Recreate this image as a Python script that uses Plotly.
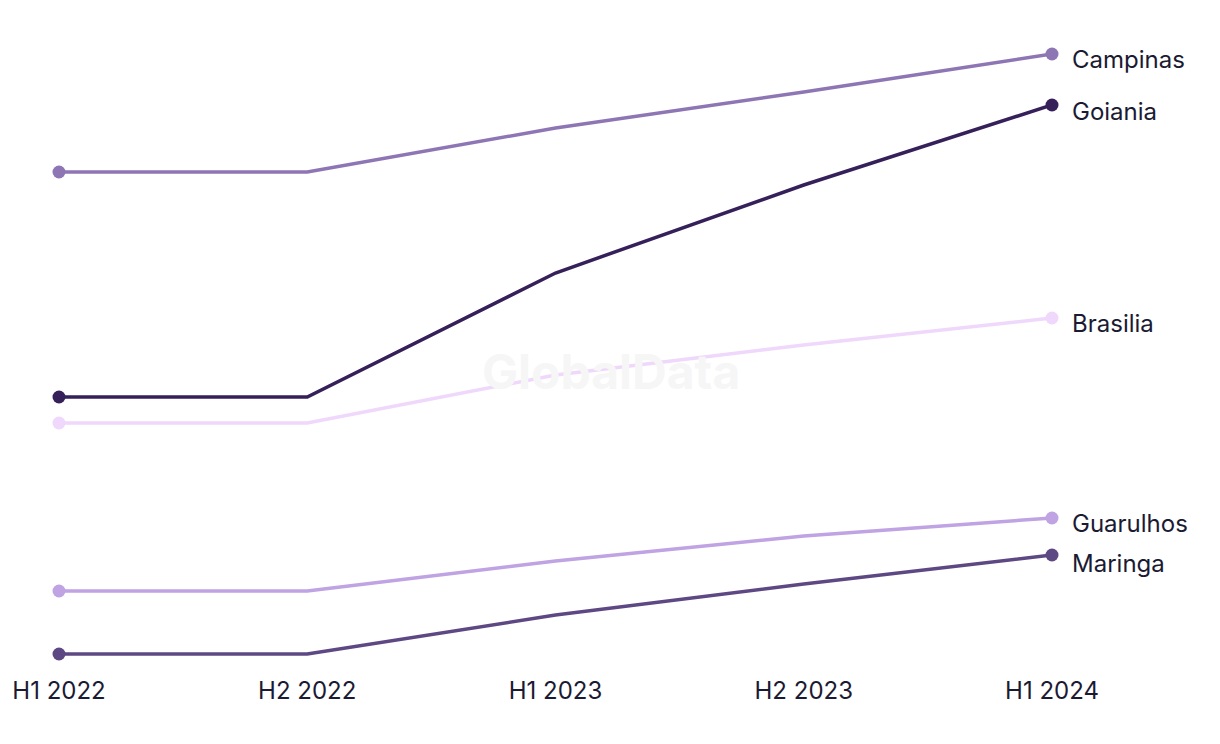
import plotly.graph_objects as go

periods = ["H1 2022", "H2 2022", "H1 2023", "H2 2023", "H1 2024"]
campinas = [52.8, 52.8, 57.2, 60.8, 64.6]
goiania = [30.3, 30.3, 42.7, 51.5, 59.5]
brasilia = [27.7, 27.7, 32.5, 35.5, 38.2]
guarulhos = [10.9, 10.9, 13.9, 16.4, 18.2]
maringa = [4.6, 4.6, 8.5, 11.6, 14.5]

series = [
    ("Campinas", campinas, "#8e76b5"),
    ("Goiania", goiania, "#35205a"),
    ("Brasilia", brasilia, "#efd8fb"),
    ("Guarulhos", guarulhos, "#bfa3e3"),
    ("Maringa", maringa, "#5e4883"),
]
label_offsets = {"Campinas": -0.5, "Goiania": -0.6, "Brasilia": -0.5, "Guarulhos": -0.5, "Maringa": -0.8}

fig = go.Figure()
xs = list(range(len(periods)))
for name, vals, col in series:
    fig.add_trace(go.Scatter(
        x=xs, y=vals, mode="lines", name=name,
        line=dict(color=col, width=3.5),
        showlegend=False, hoverinfo="skip",
    ))
    fig.add_trace(go.Scatter(
        x=[xs[0], xs[-1]], y=[vals[0], vals[-1]], mode="markers",
        marker=dict(size=13, color=col, opacity=1),
        cliponaxis=False, showlegend=False, hoverinfo="skip",
    ))
    fig.add_annotation(x=xs[-1], y=vals[-1] + label_offsets[name], text=name,
                       xanchor="left", yanchor="middle", xshift=18, showarrow=False,
                       font=dict(size=24, color="#1b1a33", family="Inter"))

fig.add_annotation(x=0.556, y=0.472, xref="paper", yref="paper", text="<b>GlobalData</b>",
                   showarrow=False, font=dict(size=48, color="#f6f6f6", family="Inter"))

fig.update_layout(
    width=1220, height=744, plot_bgcolor="white", paper_bgcolor="white",
    margin=dict(l=57, r=168, t=34, b=70),
    font=dict(family="Inter", color="#1b1a33", size=24),
)
fig.update_xaxes(range=[0, 4], tickvals=xs, ticktext=periods, showgrid=False,
                 zeroline=False, showline=False, ticks="", tickfont=dict(size=24),
                 ticklabelstandoff=0)
fig.update_yaxes(range=[2.6, 66.6], visible=False, showgrid=False)
fig.write_html("out.html")
